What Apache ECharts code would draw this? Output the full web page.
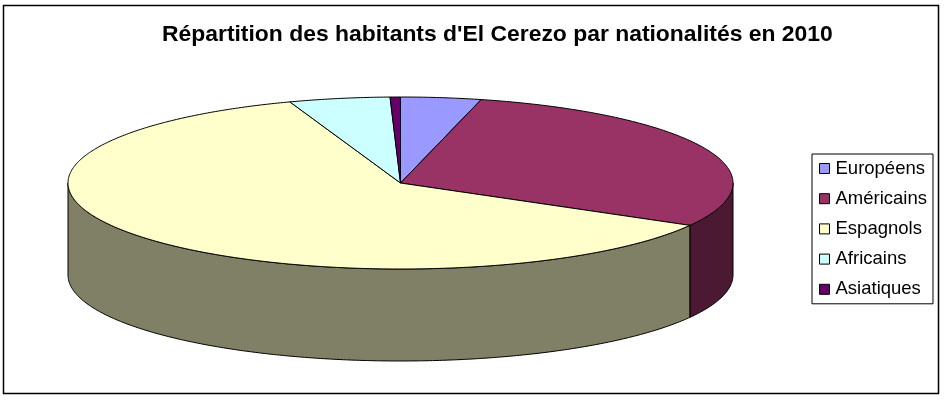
<!DOCTYPE html>
<html><head><meta charset="utf-8">
<script src="https://cdn.jsdelivr.net/npm/echarts@6/dist/echarts.min.js"></script>
<style>html,body{margin:0;padding:0;background:#fff}#c{width:944px;height:400px}</style>
</head><body><div id="c"></div>
<script>
var titleText = "Répartition des habitants d'El Cerezo par nationalités en 2010";
var categories = ['Européens','Américains','Espagnols','Africains','Asiatiques'];
var values = [3.9, 29.3, 61.4, 4.9, 0.5];
var topColors = ['#9999FF','#993366','#FFFFCC','#CCFFFF','#660066'];
var wallColors = ['#4D4D80','#4C1933','#808066','#668080','#330033'];

var CX = 400.5, CY = 183, RX = 332.5, RY = 86, DEPTH = 92;
var total = values.reduce(function(a,b){return a+b;},0);
var starts = [], acc = 0;
values.forEach(function(v){ starts.push(acc); acc += v; });

function pt(t, dy){ return [CX + RX*Math.sin(t), CY - RY*Math.cos(t) + (dy||0)]; }
function arc(a, b, dy){
  var n = Math.max(2, Math.ceil((b-a)/0.01)), out = [];
  for (var i=0;i<=n;i++) out.push(pt(a+(b-a)*i/n, dy));
  return out;
}
function renderSlice(idx){
  return function(){
    var a = starts[idx]/total*2*Math.PI;
    var b = (starts[idx]+values[idx])/total*2*Math.PI;
    var children = [];
    var wa = Math.max(a, Math.PI/2), wb = Math.min(b, 3*Math.PI/2);
    var lineStyle = {stroke:'#000', lineWidth:1};
    if (wb > wa) {
      var front = arc(wa, wb, 0);
      var back = arc(wa, wb, DEPTH).reverse();
      children.push({type:'polygon', z2:1, shape:{points:front.concat(back)},
        style:Object.assign({fill:wallColors[idx]}, lineStyle)});
    }
    children.push({type:'polygon', z2:2, shape:{points:[[CX,CY]].concat(arc(a,b,0))},
      style:Object.assign({fill:topColors[idx]}, lineStyle)});
    return {type:'group', children:children};
  };
}
var series = categories.map(function(name,i){
  return {type:'custom', name:name, coordinateSystem:'none', silent:true,
    data:[values[i]], renderItem:renderSlice(i),
    itemStyle:{color:topColors[i]}, animation:false};
});
var chart = echarts.init(document.getElementById('c'), null, {renderer:'canvas'});
chart.setOption({
  animation:false,
  backgroundColor:'#fff',
  title:{text:titleText, left:162, top:23, padding:0,
    textStyle:{fontFamily:'Liberation Sans', fontSize:22.9, fontWeight:'bold', color:'#000'}},
  legend:{orient:'vertical', left:812, top:154, padding:[5,6,5,7],
    itemGap:11.2, itemWidth:10, itemHeight:10, icon:'rect', selectedMode:false,
    borderColor:'#000', borderWidth:1, backgroundColor:'#fff',
    data:categories, itemStyle:{borderColor:'#000', borderWidth:1},
    textStyle:{fontFamily:'Liberation Sans', fontSize:18.5, lineHeight:18, color:'#000', padding:[0,0,0,1]}},
  graphic:[{type:'rect', z:-1, shape:{x:3.5,y:5.5,width:935,height:388}, style:{fill:'#fff',stroke:'#000',lineWidth:1.5}}],
  series:series
});
</script></body></html>
